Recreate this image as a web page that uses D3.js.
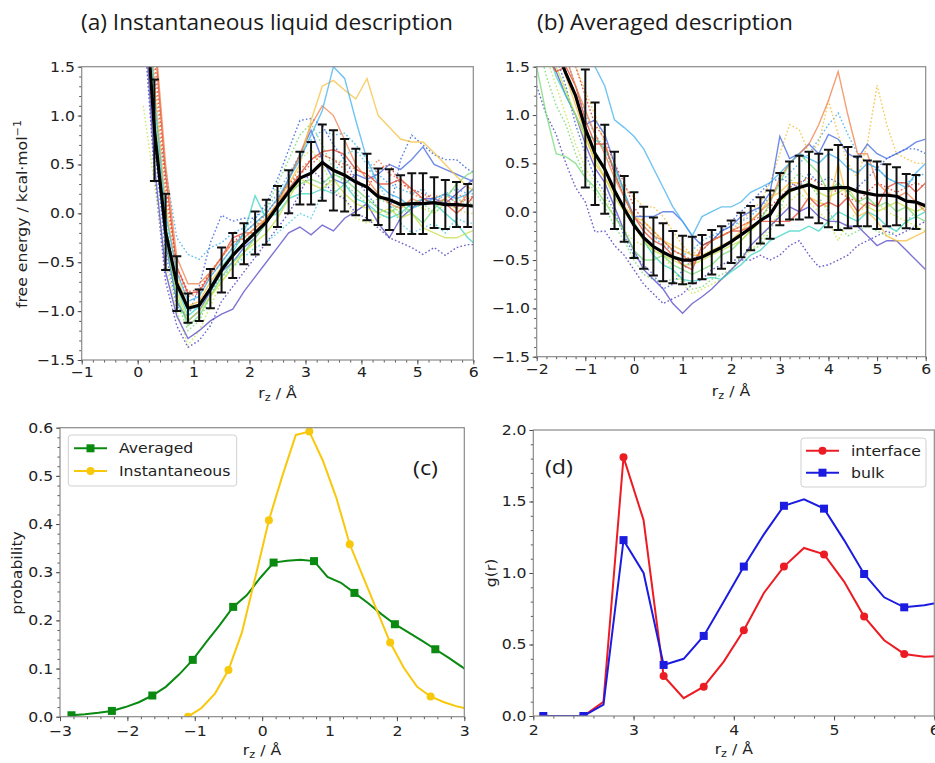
<!DOCTYPE html>
<html><head><meta charset="utf-8">
<script src="https://cdn.jsdelivr.net/npm/d3@7"></script>
<style>body{margin:0;background:#fff} svg{display:block}</style>
</head><body><svg id="c" width="935" height="763"></svg>
<script>
// ---------------- DATA ----------------
// Panel (a): instantaneous liquid description
const xsA = [0.1,0.3,0.5,0.7,0.9,1.1,1.3,1.5,1.7,1.9,2.1,2.3,2.5,2.7,2.9,3.1,3.3,3.5,3.7,3.9,4.1,4.3,4.5,4.7,4.9,5.1,5.3,5.5,5.7,5.9,6.1];
const meanA = [2.5,0.85,-0.19,-0.72,-0.97,-0.94,-0.77,-0.58,-0.43,-0.31,-0.20,-0.09,0.07,0.22,0.36,0.41,0.52,0.44,0.39,0.32,0.27,0.17,0.14,0.09,0.10,0.10,0.11,0.09,0.09,0.08,0.07];
const errA = [null,0.52,0.39,0.28,0.15,0.16,0.20,0.23,0.23,0.21,0.22,0.23,0.21,0.22,0.27,0.32,0.39,0.41,0.37,0.34,0.34,0.29,0.31,0.30,0.31,0.31,0.26,0.25,0.23,0.22,null];
const aSky = [3.0,1.2,0.0,-0.6,-0.9,-0.85,-0.65,-0.5,-0.35,-0.2,-0.1,0.0,0.15,0.35,0.55,0.8,1.05,1.5,1.38,0.95,0.55,0.3,0.2,0.15,0.05,0.1,0.15,0.2,0.15,0.2,0.3];
const aGold = [3.2,1.3,0.1,-0.65,-0.95,-0.9,-0.7,-0.55,-0.45,-0.3,-0.2,-0.05,0.1,0.3,0.5,0.95,1.3,1.36,1.26,1.17,1.38,1.0,0.88,0.76,0.73,0.73,0.62,0.5,0.38,0.27,0.2];
const aOrange = [3.8,1.9,0.5,-0.45,-0.72,-0.72,-0.6,-0.45,-0.3,-0.25,-0.15,-0.05,0.1,0.35,0.6,0.9,1.1,1.0,0.75,0.5,0.35,0.2,0.1,0.05,0.15,0.1,0.1,0.15,0.05,0.2,0.3];
const aRed = [3.6,1.8,0.4,-0.55,-0.82,-0.8,-0.62,-0.45,-0.25,-0.2,-0.2,-0.05,0.1,0.25,0.4,0.55,0.63,0.65,0.6,0.45,0.4,0.3,0.3,0.35,0.25,0.15,0.1,0.1,0.0,0.1,0.25];
const aRoyal = [2.6,0.8,-0.3,-0.9,-1.1,-1.0,-0.8,-0.6,-0.5,-0.35,-0.25,-0.1,0.1,0.35,0.6,0.85,0.55,0.35,0.3,0.4,0.35,0.4,0.5,0.45,0.55,0.68,0.5,0.45,0.4,0.35,0.3];
const aPurple = [2.2,0.5,-0.6,-1.05,-1.28,-1.2,-1.1,-1.03,-0.98,-0.8,-0.65,-0.5,-0.35,-0.2,-0.14,-0.22,-0.12,-0.18,-0.05,0.02,0.1,-0.1,-0.25,-0.05,0.05,0.15,0.15,0.1,0.2,0.3,0.4];
const aTurq = [2.8,1.0,-0.15,-0.75,-1.05,-0.95,-0.75,-0.55,-0.4,-0.2,0.18,-0.05,0.0,0.15,0.2,0.2,0.25,0.2,0.3,0.15,0.1,0.0,-0.05,0.0,0.1,0.15,0.1,0.0,-0.1,-0.25,-0.35];
const aLGreen = [2.7,0.9,-0.25,-0.85,-1.15,-1.05,-0.85,-0.65,-0.5,-0.4,-0.25,-0.1,0.05,0.2,0.3,0.35,0.3,0.4,0.35,0.25,0.15,0.05,0.0,0.1,0.0,-0.1,0.05,0.15,0.3,0.4,0.45];
const aYGreen = [2.9,1.1,-0.1,-0.8,-1.1,-1.0,-0.85,-0.7,-0.55,-0.4,-0.3,-0.2,-0.05,0.15,0.35,0.3,0.25,0.35,0.2,0.1,0.05,0.0,0.05,-0.05,0.0,-0.15,-0.2,-0.25,-0.25,-0.2,-0.15];
const aSkyDot = [2.2,1.0,0.45,-0.25,-0.42,-0.47,-0.35,-0.3,-0.2,-0.15,-0.05,0.05,0.2,0.4,0.6,0.75,0.85,0.8,0.82,0.7,0.55,0.4,0.3,0.25,0.2,0.25,0.1,0.2,0.25,0.2,0.2];
const aBlueDot = [2.4,0.7,-0.4,-0.95,-1.05,-0.75,-0.3,-0.02,-0.08,-0.05,-0.05,0.1,0.35,0.65,0.95,0.97,0.9,0.7,0.55,0.35,0.2,0.05,0.0,0.55,0.8,0.7,0.6,0.55,0.55,0.45,0.4];
const aPurpleDot = [2.0,0.4,-0.7,-1.15,-1.37,-1.3,-1.15,-0.9,-0.75,-0.6,-0.45,-0.3,-0.15,0.0,0.2,0.45,0.35,0.2,0.15,0.0,-0.05,-0.15,-0.25,-0.3,-0.35,-0.42,-0.35,-0.43,-0.35,-0.32,-0.32];
const aGreenDot = [2.5,0.8,-0.3,-0.9,-1.2,-1.1,-0.85,-0.6,-0.45,-0.3,-0.15,0.05,0.3,0.55,0.8,0.92,0.7,0.45,0.3,0.2,0.1,0.15,0.1,0.0,0.05,0.1,0.0,0.1,0.15,0.1,0.1];
const aLimeDot = [1.1,0.3,-0.5,-1.0,-1.35,-1.2,-0.95,-0.7,-0.55,-0.4,-0.25,-0.1,0.1,0.35,0.55,0.65,0.5,0.25,0.15,-0.05,-0.1,-0.05,0.0,0.05,0.1,0.05,0.0,0.1,0.05,0.0,0.0];
const aOrangeDot = [3.3,1.4,0.2,-0.6,-0.85,-0.82,-0.65,-0.5,-0.35,-0.25,-0.15,0.0,0.15,0.3,0.45,0.55,0.6,0.55,0.5,0.45,0.4,0.55,0.4,0.35,0.2,0.15,0.2,0.1,0.2,0.15,0.1];
const aCyanDot = [2.9,1.1,-0.05,-0.7,-1.0,-0.95,-0.8,-0.65,-0.55,-0.45,-0.35,-0.3,-0.2,-0.1,0.0,-0.05,0.2,0.4,0.6,0.65,0.5,0.3,0.1,-0.1,-0.2,-0.15,-0.1,-0.2,-0.05,-0.1,-0.1];
const aRedDot = [3.5,1.6,0.3,-0.55,-0.8,-0.78,-0.6,-0.45,-0.3,-0.2,-0.1,0.0,0.15,0.3,0.4,0.5,0.6,0.55,0.45,0.35,0.25,0.45,0.5,0.3,0.25,0.2,0.15,0.2,0.1,0.15,0.2];

// Panel (b): averaged description
const xsB = [-2.0,-1.8,-1.6,-1.4,-1.2,-1.0,-0.8,-0.6,-0.4,-0.2,0.0,0.2,0.4,0.6,0.8,1.0,1.2,1.4,1.6,1.8,2.0,2.2,2.4,2.6,2.8,3.0,3.2,3.4,3.6,3.8,4.0,4.2,4.4,4.6,4.8,5.0,5.2,5.4,5.6,5.8,6.0];
const meanB = [2.1,1.9,1.68,1.43,1.2,0.86,0.60,0.44,0.22,0.03,-0.14,-0.27,-0.36,-0.42,-0.47,-0.50,-0.50,-0.47,-0.42,-0.37,-0.31,-0.24,-0.17,-0.09,-0.03,0.13,0.22,0.25,0.28,0.24,0.24,0.25,0.25,0.21,0.19,0.17,0.17,0.16,0.11,0.10,0.06];
const errB = [null,null,null,null,null,0.61,0.53,0.46,0.40,0.34,0.34,0.32,0.30,0.30,0.27,0.25,0.24,0.23,0.23,0.22,0.22,0.23,0.23,0.24,0.25,0.27,0.30,0.33,0.34,0.36,0.40,0.44,0.42,0.36,0.34,0.35,0.32,0.30,0.28,0.28,null];
const bSky = [3.0,2.8,2.6,2.3,2.0,1.7,1.5,1.3,0.95,0.87,0.78,0.65,0.45,0.25,0.05,-0.1,-0.25,-0.05,0.0,0.05,0.05,0.1,0.2,0.25,0.3,0.4,0.5,0.6,0.55,0.5,0.6,0.55,0.45,0.4,0.5,0.45,0.35,0.3,0.25,0.4,0.5];
const bOrange = [2.5,2.2,1.9,1.6,1.3,1.05,0.8,0.6,0.35,0.15,-0.05,-0.15,-0.25,-0.3,-0.4,-0.45,-0.55,-0.4,-0.3,-0.25,-0.2,-0.15,-0.1,0.0,0.1,0.35,0.5,0.6,0.7,0.9,1.15,1.45,1.0,0.6,0.6,0.3,0.2,0.15,0.2,0.1,0.0];
const bRoyal = [2.2,2.0,1.7,1.45,1.2,0.9,0.95,0.8,0.5,0.2,-0.05,-0.05,-0.05,0.0,0.0,-0.1,-0.25,-0.35,-0.3,-0.2,-0.15,-0.05,0.0,0.05,0.2,0.78,0.55,0.6,0.7,0.6,0.8,0.75,0.6,0.55,0.7,0.6,0.55,0.6,0.65,0.72,0.75];
const bPurple = [2.0,1.7,1.45,1.2,1.0,0.7,0.45,0.3,0.05,-0.2,-0.4,-0.6,-0.7,-0.8,-0.95,-1.05,-0.95,-0.88,-0.8,-0.7,-0.6,-0.5,-0.35,-0.25,-0.15,-0.05,0.05,0.0,0.05,-0.05,-0.1,-0.1,-0.15,-0.15,-0.25,-0.35,-0.3,-0.3,-0.4,-0.5,-0.6];
const bRed = [2.3,1.6,1.45,1.5,1.3,0.95,0.7,0.7,0.4,0.15,-0.05,-0.2,-0.3,-0.35,-0.45,-0.55,-0.6,-0.35,-0.3,-0.25,-0.2,-0.2,-0.15,-0.1,-0.1,-0.1,-0.1,0.0,0.15,0.05,0.1,0.05,0.15,0.0,0.1,0.05,0.25,0.3,0.3,0.2,0.3];
const bLGreen = [1.5,1.0,0.6,0.57,0.5,0.35,0.25,0.1,-0.05,-0.2,-0.4,-0.5,-0.5,-0.45,-0.55,-0.6,-0.65,-0.6,-0.55,-0.45,-0.4,-0.3,-0.2,-0.1,0.1,0.3,0.5,0.6,0.5,0.4,0.2,0.3,0.2,0.1,0.15,0.05,0.1,0.0,0.05,-0.05,-0.1];
const bTurq = [2.0,1.7,1.4,1.2,1.0,0.8,0.75,0.65,0.45,0.2,-0.1,-0.3,-0.45,-0.55,-0.6,-0.7,-0.72,-0.7,-0.68,-0.7,-0.62,-0.55,-0.45,-0.4,-0.3,-0.25,-0.2,-0.2,-0.15,-0.2,-0.1,0.0,-0.05,-0.1,0.0,-0.05,-0.15,-0.2,-0.1,-0.05,0.0];
const bGold = [2.4,2.0,1.7,1.4,1.1,0.8,0.5,0.35,0.2,0.05,-0.05,-0.1,-0.2,-0.3,-0.35,-0.4,-0.45,-0.45,-0.4,-0.35,-0.3,-0.2,-0.1,0.0,0.15,0.2,0.3,0.3,0.15,0.1,0.05,0.5,0.1,-0.05,0.0,-0.1,-0.25,-0.3,-0.3,-0.25,-0.2];
const bYGreen = [2.1,1.8,1.5,1.25,1.0,0.75,0.55,0.35,0.15,0.0,-0.15,-0.3,-0.4,-0.45,-0.5,-0.55,-0.55,-0.5,-0.45,-0.4,-0.35,-0.3,-0.2,-0.1,0.0,0.1,0.2,0.25,0.3,0.2,0.15,0.2,0.25,0.1,0.05,0.0,0.05,0.1,0.05,0.0,0.05];
const bSkyDot = [2.5,2.2,1.9,1.6,1.3,1.0,0.8,0.65,0.4,0.15,-0.05,-0.15,-0.25,-0.35,-0.4,-0.45,-0.4,-0.3,-0.25,-0.2,-0.15,-0.1,-0.05,0.05,0.15,0.3,0.4,0.5,0.6,0.75,0.9,1.02,0.8,0.6,0.5,0.45,0.35,0.3,0.3,0.35,0.4];
const bPurpleDot = [1.3,1.0,0.8,0.5,0.25,0.1,-0.21,-0.2,-0.35,-0.45,-0.6,-0.75,-0.85,-0.95,-0.9,-0.85,-0.75,-0.7,-0.6,-0.55,-0.5,-0.5,-0.5,-0.45,-0.5,-0.45,-0.35,-0.3,-0.45,-0.57,-0.55,-0.5,-0.45,-0.35,-0.3,-0.25,-0.2,-0.25,-0.2,-0.15,-0.1];
const bOrangeDot = [2.6,2.3,2.0,1.75,1.5,1.25,1.0,0.7,0.45,0.25,0.15,0.05,0.05,-0.05,-0.2,-0.35,-0.45,-0.35,-0.3,-0.25,-0.2,-0.1,0.0,0.1,0.3,0.6,0.9,0.85,0.6,0.7,1.15,0.8,0.5,0.35,0.7,1.31,0.9,0.6,0.55,0.5,0.5];
const bGreenDot = [1.8,1.4,1.1,0.9,0.6,0.35,0.2,0.05,-0.15,-0.3,-0.5,-0.65,-0.7,-0.72,-0.7,-0.7,-0.8,-0.78,-0.7,-0.65,-0.6,-0.45,-0.4,-0.35,-0.2,0.0,0.3,0.4,0.3,0.15,0.0,-0.15,-0.25,-0.2,-0.15,-0.2,-0.25,-0.2,-0.1,0.0,0.05];
const bBlueDot = [2.3,2.0,1.6,1.3,0.9,0.6,0.35,0.2,0.0,-0.25,-0.45,-0.55,-0.65,-0.8,-0.75,-0.6,-0.5,-0.4,-0.3,-0.2,-0.1,0.0,0.1,0.2,0.3,0.35,0.3,0.25,0.4,0.3,0.35,0.3,0.2,0.25,0.35,0.45,0.55,0.6,0.65,0.65,0.6];
const bRedDot = [2.7,2.4,2.1,1.8,1.5,1.2,0.9,0.75,0.5,0.3,0.05,-0.1,-0.2,-0.3,-0.4,-0.45,-0.5,-0.4,-0.3,-0.25,-0.2,-0.15,-0.1,-0.05,0.05,0.15,0.25,0.3,0.35,0.3,0.25,0.2,0.15,0.1,0.2,0.3,0.25,0.2,0.25,0.3,0.25];
const bLimeDot = [1.9,1.6,1.3,1.0,0.7,0.45,0.3,0.15,-0.05,-0.2,-0.3,-0.35,-0.4,-0.45,-0.6,-0.75,-0.85,-0.8,-0.75,-0.7,-0.6,-0.5,-0.4,-0.3,-0.15,0.0,0.1,0.2,0.1,0.0,-0.1,-0.3,-0.1,0.0,0.05,0.1,0.0,-0.05,-0.1,-0.15,-0.2];

// Panel (c): probability
const xAvg = [-2.83,-2.63,-2.43,-2.23,-2.03,-1.83,-1.63,-1.43,-1.23,-1.03,-0.83,-0.63,-0.43,-0.23,-0.03,0.17,0.37,0.57,0.77,0.97,1.17,1.37,1.57,1.77,1.97,2.17,2.37,2.57,2.77,2.97,3.17];
const pAvg = [0.003,0.005,0.008,0.012,0.020,0.030,0.044,0.062,0.088,0.118,0.155,0.190,0.228,0.252,0.288,0.320,0.324,0.326,0.323,0.290,0.278,0.257,0.236,0.213,0.192,0.175,0.158,0.140,0.122,0.103,0.080];
const xInst = [-1.1,-0.9,-0.7,-0.5,-0.3,-0.1,0.1,0.3,0.5,0.7,0.9,1.1,1.3,1.5,1.7,1.9,2.1,2.3,2.5,2.7,2.9,3.1];
const pInst = [0.0,0.018,0.048,0.097,0.175,0.290,0.408,0.500,0.585,0.592,0.532,0.455,0.358,0.290,0.222,0.154,0.102,0.062,0.042,0.030,0.021,0.015];

// Panel (d): g(r)
const xG = [2.1,2.3,2.5,2.7,2.9,3.1,3.3,3.5,3.7,3.9,4.1,4.3,4.5,4.7,4.9,5.1,5.3,5.5,5.7,5.9,6.1];
const gInterface = [0.0,0.0,0.0,0.10,1.81,1.37,0.28,0.125,0.205,0.38,0.60,0.86,1.045,1.175,1.13,0.94,0.695,0.53,0.434,0.415,0.42];
const gBulk = [0.0,0.0,0.0,0.08,1.23,1.00,0.357,0.40,0.56,0.80,1.045,1.27,1.47,1.515,1.45,1.23,0.993,0.83,0.76,0.775,0.80];

// tick labels
const ticksAx = [-1,0,1,2,3,4,5,6];
const ticksBx = [-2,-1,0,1,2,3,4,5,6];
const ticksFE = [-1.5,-1.0,-0.5,0.0,0.5,1.0,1.5];
const ticksCx = [-3,-2,-1,0,1,2,3];
const ticksCy = [0.0,0.1,0.2,0.3,0.4,0.5,0.6];
const ticksDx = [2,3,4,5,6];
const ticksDy = [0.0,0.5,1.0,1.5,2.0];

// ---------------- DRAWING ----------------
const svg = d3.select('#c');
const FONT = "'DejaVu Sans', sans-serif";
const TITLEFONT = "'Open Sans', 'Noto Sans', sans-serif";
const SX = 1.12;
const defs = svg.append('defs');

function panel(id, x0, x1, y0, y1, xd, yd) {
  const x = d3.scaleLinear().domain(xd).range([x0, x1]);
  const y = d3.scaleLinear().domain(yd).range([y1, y0]);
  defs.append('clipPath').attr('id', 'clip' + id)
    .append('rect').attr('x', x0).attr('y', y0).attr('width', x1 - x0).attr('height', y1 - y0);
  const g = svg.append('g');
  const plot = g.append('g').attr('clip-path', `url(#clip${id})`);
  return {x, y, g, plot, x0, x1, y0, y1};
}

function styleTicks(sel) {
  sel.select('.domain').remove();
  sel.selectAll('line').attr('stroke', '#444').attr('stroke-width', 0.9);
  sel.selectAll('text').attr('font-family', FONT).attr('font-size', 14).attr('fill', '#222')
    .attr('transform', `scale(${SX},1)`);
}

function drawAxes(p, xt, yt, xstep, ystep, xfmt, yfmt, xpad) {
  const [xa, xb] = p.x.domain(), [ya, yb] = p.y.domain();
  const xminor = d3.range(Math.round(xa / xstep), Math.round(xb / xstep) + 1).map(k => +(k * xstep).toFixed(4));
  const yminor = d3.range(Math.round(ya / ystep), Math.round(yb / ystep) + 1).map(k => +(k * ystep).toFixed(4));
  p.g.append('g').attr('transform', `translate(0,${p.y1})`)
    .call(d3.axisBottom(p.x).tickValues(xminor).tickSize(2.5).tickFormat('')).call(styleTicks);
  p.g.append('g').attr('transform', `translate(${p.x0},0)`)
    .call(d3.axisLeft(p.y).tickValues(yminor).tickSize(2.5).tickFormat('')).call(styleTicks);
  p.g.append('g').attr('transform', `translate(0,${p.y1})`)
    .call(d3.axisBottom(p.x).tickValues(xt).tickSize(4.5).tickPadding(xpad).tickFormat(d3.format(xfmt))).call(styleTicks);
  p.g.append('g').attr('transform', `translate(${p.x0},0)`)
    .call(d3.axisLeft(p.y).tickValues(yt).tickSize(4).tickPadding(2).tickFormat(d3.format(yfmt))).call(styleTicks);
  p.g.append('rect').attr('x', p.x0).attr('y', p.y0).attr('width', p.x1 - p.x0).attr('height', p.y1 - p.y0)
    .attr('fill', 'none').attr('stroke', '#8a8a8a').attr('stroke-width', 1.2);
}

function rzLabel(cx, y) {
  const t = svg.append('text').attr('transform', `translate(${cx},${y}) scale(${SX},1)`)
    .attr('text-anchor', 'middle').attr('font-family', FONT).attr('font-size', 14).attr('fill', '#222');
  t.append('tspan').text('r');
  t.append('tspan').attr('dy', 3).attr('font-size', 10).text('z');
  t.append('tspan').attr('dy', -3).text(' / Å');
}

function yLabel(cx, cy, parts) {
  const t = svg.append('text').attr('transform', `translate(${cx},${cy}) rotate(-90) scale(${SX},1)`)
    .attr('text-anchor', 'middle').attr('font-family', FONT).attr('font-size', 14).attr('fill', '#222');
  parts(t);
}

// spaghetti panel helper
function spaghetti(p, xs, lines, mean, err) {
  lines.forEach(L => {
    const line = d3.line().x((d, i) => p.x(xs[i])).y(d => p.y(d));
    p.plot.append('path').datum(L.v).attr('d', line).attr('fill', 'none')
      .attr('stroke', L.c).attr('stroke-width', 1.4)
      .attr('stroke-opacity', L.dot ? 0.85 : 0.75)
      .attr('stroke-dasharray', L.dot ? '1.6,2.2' : null);
  });
  const eb = p.plot.append('g').attr('stroke', '#111').attr('stroke-width', 2);
  xs.forEach((xv, i) => {
    if (err[i] == null) return;
    const xx = p.x(xv), ya = p.y(mean[i] + err[i]), yb = p.y(mean[i] - err[i]);
    eb.append('line').attr('x1', xx).attr('x2', xx).attr('y1', ya).attr('y2', yb);
    eb.append('line').attr('x1', xx - 4.5).attr('x2', xx + 4.5).attr('y1', ya).attr('y2', ya);
    eb.append('line').attr('x1', xx - 4.5).attr('x2', xx + 4.5).attr('y1', yb).attr('y2', yb);
  });
  p.plot.append('path').datum(mean)
    .attr('d', d3.line().x((d, i) => p.x(xs[i])).y(d => p.y(d)))
    .attr('fill', 'none').attr('stroke', '#000').attr('stroke-width', 3.2).attr('stroke-linejoin', 'round');
}

const C = {
  sky: '#3fb0ee', gold: '#f5bf3a', orange: '#f07e45', red: '#e0402a', royal: '#3f66e0',
  purple: '#5145c6', turq: '#38d4c0', lgreen: '#74da74', ygreen: '#c4e044', lime: '#c6e84c', cyan: '#48cfe6'
};

// ---- (a)
const pA = panel('a', 81.7, 473.3, 66.7, 360, [-1, 6], [-1.5, 1.5]);
spaghetti(pA, xsA, [
  {v: aSkyDot, c: C.sky, dot: true}, {v: aBlueDot, c: C.royal, dot: true}, {v: aPurpleDot, c: C.purple, dot: true},
  {v: aGreenDot, c: C.lgreen, dot: true}, {v: aLimeDot, c: C.lime, dot: true}, {v: aOrangeDot, c: C.orange, dot: true},
  {v: aCyanDot, c: C.cyan, dot: true}, {v: aRedDot, c: C.red, dot: true},
  {v: aPurple, c: C.purple}, {v: aRoyal, c: C.royal}, {v: aTurq, c: C.turq}, {v: aLGreen, c: C.lgreen},
  {v: aYGreen, c: C.ygreen}, {v: aRed, c: C.red}, {v: aOrange, c: C.orange}, {v: aGold, c: C.gold}, {v: aSky, c: C.sky}
], meanA, errA);
drawAxes(pA, ticksAx, ticksFE, 0.2, 0.1, 'd', '.1f', 2.5);

// ---- (b)
const pB = panel('b', 536.7, 925.7, 66.7, 356.7, [-2, 6], [-1.5, 1.5]);
spaghetti(pB, xsB, [
  {v: bSkyDot, c: C.sky, dot: true}, {v: bPurpleDot, c: C.purple, dot: true}, {v: bOrangeDot, c: C.gold, dot: true},
  {v: bGreenDot, c: C.lgreen, dot: true}, {v: bBlueDot, c: C.royal, dot: true}, {v: bRedDot, c: C.red, dot: true},
  {v: bLimeDot, c: C.lime, dot: true},
  {v: bPurple, c: C.purple}, {v: bRoyal, c: C.royal}, {v: bTurq, c: C.turq}, {v: bLGreen, c: C.lgreen},
  {v: bYGreen, c: C.ygreen}, {v: bGold, c: C.gold}, {v: bRed, c: C.red}, {v: bOrange, c: C.orange}, {v: bSky, c: C.sky}
], meanB, errB);
drawAxes(pB, ticksBx, ticksFE, 0.2, 0.1, 'd', '.1f', 2.5);

// ---- (c)
const pC = panel('c', 60, 464.3, 427.7, 716.7, [-3, 3], [0, 0.6]);
const GREEN = '#0b8a12', YELLOW = '#f8c80c';
function seriesLine(p, xs, ys, color, every, shape, size) {
  const line = d3.line().x((d, i) => p.x(xs[i])).y(d => p.y(d));
  p.plot.append('path').datum(ys).attr('d', line).attr('fill', 'none').attr('stroke', color).attr('stroke-width', 2);
  const pts = ys.map((v, i) => ({x: xs[i], y: v, i})).filter(d => d.i % every === 0);
  if (shape === 'square') {
    p.plot.selectAll(null).data(pts).enter().append('rect')
      .attr('x', d => p.x(d.x) - size / 2).attr('y', d => p.y(d.y) - size / 2)
      .attr('width', size).attr('height', size).attr('fill', color);
  } else {
    p.plot.selectAll(null).data(pts).enter().append('circle')
      .attr('cx', d => p.x(d.x)).attr('cy', d => p.y(d.y)).attr('r', size / 2).attr('fill', color);
  }
}
seriesLine(pC, xAvg, pAvg, GREEN, 3, 'square', 8);
seriesLine(pC, xInst, pInst, YELLOW, 3, 'circle', 8);
drawAxes(pC, ticksCx, ticksCy, 0.2, 0.02, 'd', '.1f', 4.5);

// ---- (d)
const pD = panel('d', 533.3, 934.3, 430, 716, [2, 6], [0, 2]);
const RED = '#ec1c24', BLUE = '#1c1ce0';
seriesLine(pD, xG, gInterface, RED, 2, 'circle', 8);
seriesLine(pD, xG, gBulk, BLUE, 2, 'square', 8);
drawAxes(pD, ticksDx, ticksDy, 0.2, 0.1, 'd', '.1f', 4.5);

// ---- legends
function legend(x, y, w, h, items) {
  const g = svg.append('g');
  g.append('rect').attr('x', x).attr('y', y).attr('width', w).attr('height', h).attr('rx', 3)
    .attr('fill', '#fff').attr('stroke', '#d0d0d0').attr('stroke-width', 1);
  items.forEach(it => {
    g.append('line').attr('x1', it.lx0).attr('x2', it.lx1).attr('y1', it.y).attr('y2', it.y)
      .attr('stroke', it.c).attr('stroke-width', 2);
    const mx = (it.lx0 + it.lx1) / 2;
    if (it.shape === 'square') g.append('rect').attr('x', mx - 4).attr('y', it.y - 4).attr('width', 8).attr('height', 8).attr('fill', it.c);
    else g.append('circle').attr('cx', mx).attr('cy', it.y).attr('r', 4).attr('fill', it.c);
    g.append('text').attr('transform', `translate(${it.tx},${it.y + 5}) scale(${SX},1)`)
      .attr('font-family', FONT).attr('font-size', 14).attr('fill', '#222').text(it.t);
  });
}
legend(68.3, 435, 168.4, 51, [
  {lx0: 74, lx1: 107, y: 448.3, tx: 119, c: GREEN, shape: 'square', t: 'Averaged'},
  {lx0: 74, lx1: 107, y: 471, tx: 119, c: YELLOW, shape: 'circle', t: 'Instantaneous'}
]);
legend(801, 438, 125, 49, [
  {lx0: 806, lx1: 839, y: 450.7, tx: 851, c: RED, shape: 'circle', t: 'interface'},
  {lx0: 806, lx1: 839, y: 472.7, tx: 851, c: BLUE, shape: 'square', t: 'bulk'}
]);

// ---- panel letters / titles
svg.append('text').attr('x', 81).attr('y', 30).attr('font-family', TITLEFONT).attr('font-size', 21)
  .attr('fill', '#1a1a1a').attr('textLength', 372).attr('lengthAdjust', 'spacingAndGlyphs')
  .text('(a) Instantaneous liquid description');
svg.append('text').attr('x', 537).attr('y', 30).attr('font-family', TITLEFONT).attr('font-size', 21)
  .attr('fill', '#1a1a1a').attr('textLength', 256).attr('lengthAdjust', 'spacingAndGlyphs')
  .text('(b) Averaged description');
svg.append('text').attr('x', 413).attr('y', 475).attr('font-family', TITLEFONT).attr('font-size', 20)
  .attr('fill', '#1a1a1a').attr('textLength', 25).attr('lengthAdjust', 'spacingAndGlyphs').text('(c)');
svg.append('text').attr('x', 545).attr('y', 474).attr('font-family', TITLEFONT).attr('font-size', 20)
  .attr('fill', '#1a1a1a').attr('textLength', 28).attr('lengthAdjust', 'spacingAndGlyphs').text('(d)');

// ---- axis labels
rzLabel(277.5, 398);
rzLabel(731, 396);
rzLabel(262, 755);
rzLabel(733.8, 754);
yLabel(27, 214, t => {
  t.append('tspan').text('free energy / kcal·mol');
  t.append('tspan').attr('dy', -6).attr('font-size', 10).text('−1');
});
yLabel(22, 573, t => t.text('probability'));
yLabel(496, 573, t => t.text('g(r)'));
</script></body></html>
